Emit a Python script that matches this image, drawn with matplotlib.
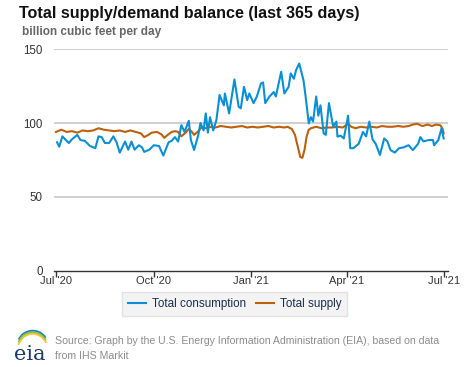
import numpy as np
import pandas as pd
import matplotlib
matplotlib.use("Agg")
import matplotlib.pyplot as plt
from matplotlib.patches import Arc

plt.rcParams['font.family'] = ['Liberation Sans', 'DejaVu Sans']

# days after 1 Jul 2020
cons_day = [1, 3, 6, 12, 15, 20, 23, 27, 32, 37, 40, 43, 46, 50, 54, 57, 60, 65, 68,
            71, 74, 78, 81, 83, 88, 92, 97, 101, 106, 109, 112, 115, 118, 121, 125, 127,
            130, 134, 136, 139, 141, 143, 145, 148, 151, 154, 158, 159, 163, 168, 172,
            174, 177, 180, 182, 186, 189, 193, 195, 197, 201, 205, 207, 212, 215, 219,
            221, 224, 226, 229, 233, 235, 238, 240, 242, 245, 247, 249, 252, 254, 257,
            261, 264, 265, 268, 271, 275, 277, 280, 285, 289, 292, 295, 298, 301, 305,
            309, 312, 315, 319, 323, 327, 332, 336, 341, 343, 346, 351, 355, 356, 360,
            363, 365]
cons_val = [87, 84, 91, 86.5, 89, 92, 88.5, 88, 84.5, 83, 91, 90.5, 86.5, 86.5, 91, 87,
            80, 87.5, 82, 87.5, 82, 85, 83.5, 80.5, 82, 85, 84.5, 78, 87, 88, 90.5, 87.5,
            98.6, 94, 101.5, 88.5, 81.8, 92, 100, 95, 106.5, 93.5, 104, 95, 102, 119, 112,
            120, 106.5, 129.5, 111, 110, 124.5, 115.5, 120, 113.5, 117.8, 126.8, 127.5,
            113.5, 118, 121, 118, 134.7, 120, 124.5, 133.6, 130, 135.8, 140.3, 129, 118,
            99.8, 104, 101, 118, 105, 112, 93, 92, 113.5, 97.5, 101, 90.8, 91.5, 89.6,
            105, 83, 83, 86, 94, 91, 101, 89, 86, 78.4, 89.6, 87.6, 81.7, 80, 83, 83.5,
            85, 81.7, 86, 90.5, 87.6, 88.5, 88.5, 85, 88.5, 96.4, 89.6]

supply_day = [0, 5, 10, 15, 20, 25, 30, 35, 40, 45, 50, 55, 60, 65, 70, 75, 80, 83, 87,
              90, 95, 99, 102, 106, 109, 112, 115, 118, 122, 125, 128, 130, 134, 137, 141,
              146, 150, 155, 160, 165, 170, 175, 180, 185, 190, 195, 200, 205, 210, 215,
              218, 222, 225, 228, 230, 232, 234, 236, 238, 240, 245, 250, 255, 260, 265,
              270, 275, 278, 282, 287, 292, 297, 302, 307, 312, 317, 322, 327, 332, 336,
              340, 345, 350, 354, 358, 362, 364, 365]
supply_val = [94, 95.5, 94, 94.5, 93.5, 95, 94.5, 95, 96.5, 95.5, 95, 94.5, 95, 94, 95,
              94, 93, 90.5, 92, 93.5, 94, 92.5, 90, 92.5, 94, 94.5, 94, 91, 93.5, 96, 94,
              92, 94.5, 97, 96.5, 97.5, 97, 98, 97.5, 97, 97.5, 98, 97, 97.5, 97, 97.5,
              98, 97, 97.5, 97, 97.5, 96, 92, 83, 77, 76.5, 82, 91, 95.5, 96.5, 97.5,
              96.5, 97, 97, 97.5, 97, 99.5, 97.5, 96.5, 97.5, 97, 97.5, 97, 98, 97.5,
              97.5, 98, 97.5, 98, 99, 99.5, 98, 99, 98, 99, 98.5, 96, 93]

y_ticks = [0, 50, 100, 150]
x_tick_dates = ['2020-07-01', '2020-10-01', '2021-01-01', '2021-04-01', '2021-07-01']
x_tick_labels = ["Jul '20", "Oct '20", "Jan '21", "Apr '21", "Jul '21"]
series_names = ['Total consumption', 'Total supply']

start = pd.Timestamp('2020-07-01')
cons_dates = start + pd.to_timedelta(cons_day, unit='D')
supply_dates = start + pd.to_timedelta(supply_day, unit='D')

blue = '#0a8fd6'
orange = '#bd5f0c'

fig = plt.figure(figsize=(4.77, 3.67), dpi=100)
ax = fig.add_axes([0.113, 0.262, 0.826, 0.604])

for y in y_ticks[1:]:
    ax.axhline(y, color='#cccccc', lw=1.3, zorder=1)

ax.plot(cons_dates, cons_val, color=blue, lw=1.5, zorder=3, label=series_names[0])
ax.plot(supply_dates, supply_val, color=orange, lw=1.5, zorder=2, label=series_names[1])

ax.set_ylim(0, 150)
ax.set_xlim(pd.Timestamp('2020-06-29'), pd.Timestamp('2021-07-05'))
ax.set_yticks(y_ticks)
ax.set_yticklabels([str(v) for v in y_ticks], color='#333333', fontsize=8.3)
ax.set_xticks(pd.to_datetime(x_tick_dates))
ax.set_xticklabels(x_tick_labels, color='#333333', fontsize=8)
ax.tick_params(axis='y', length=0, pad=8)
ax.tick_params(axis='x', length=4, width=1, color='#333333', pad=0)
for s in ['top', 'right', 'left']:
    ax.spines[s].set_visible(False)
ax.spines['bottom'].set_color('#333333')
ax.spines['bottom'].set_linewidth(1)

fig.text(0.04, 0.952, 'Total supply/demand balance (last 365 days)', fontsize=11.6,
         fontweight='bold', color='#111111', va='baseline')
fig.text(0.046, 0.905, 'billion cubic feet per day', fontsize=8.5,
         fontweight='bold', color='#666666', va='baseline')

leg = fig.legend(loc='center', bbox_to_anchor=(0.492, 0.172), ncol=2, fontsize=8.4,
                 frameon=True, handlelength=1.5, handletextpad=0.5, columnspacing=0.9,
                 borderpad=0.5, fancybox=False)
leg.get_frame().set_facecolor('#f0f0f0')
leg.get_frame().set_edgecolor('#dddddd')
for t in leg.get_texts():
    t.set_color('#1c2d4f')

fig.text(0.115, 0.05, 'Source: Graph by the U.S. Energy Information Administration (EIA), based on data\nfrom IHS Markit',
         fontsize=7.6, color='#8c8c8c', va='center', linespacing=1.55)

# eia logo
fig.text(0.062, 0.018, 'eia', fontsize=15, family='DejaVu Serif', color='#1b3a6b',
         ha='center', va='baseline')
lax = fig.add_axes([0.03, 0.06, 0.07, 0.06])
lax.set_xlim(0, 1)
lax.set_ylim(0, 1)
lax.axis('off')
for i, c in enumerate(['#1b7fc4', '#7ec242', '#f2c230']):
    lax.add_patch(Arc((0.55, 0.0 - i * 0.12), 0.9, 1.3 + i * 0.1, theta1=40, theta2=150,
                      color=c, lw=1.3))

fig.savefig('out.png', dpi=100)
